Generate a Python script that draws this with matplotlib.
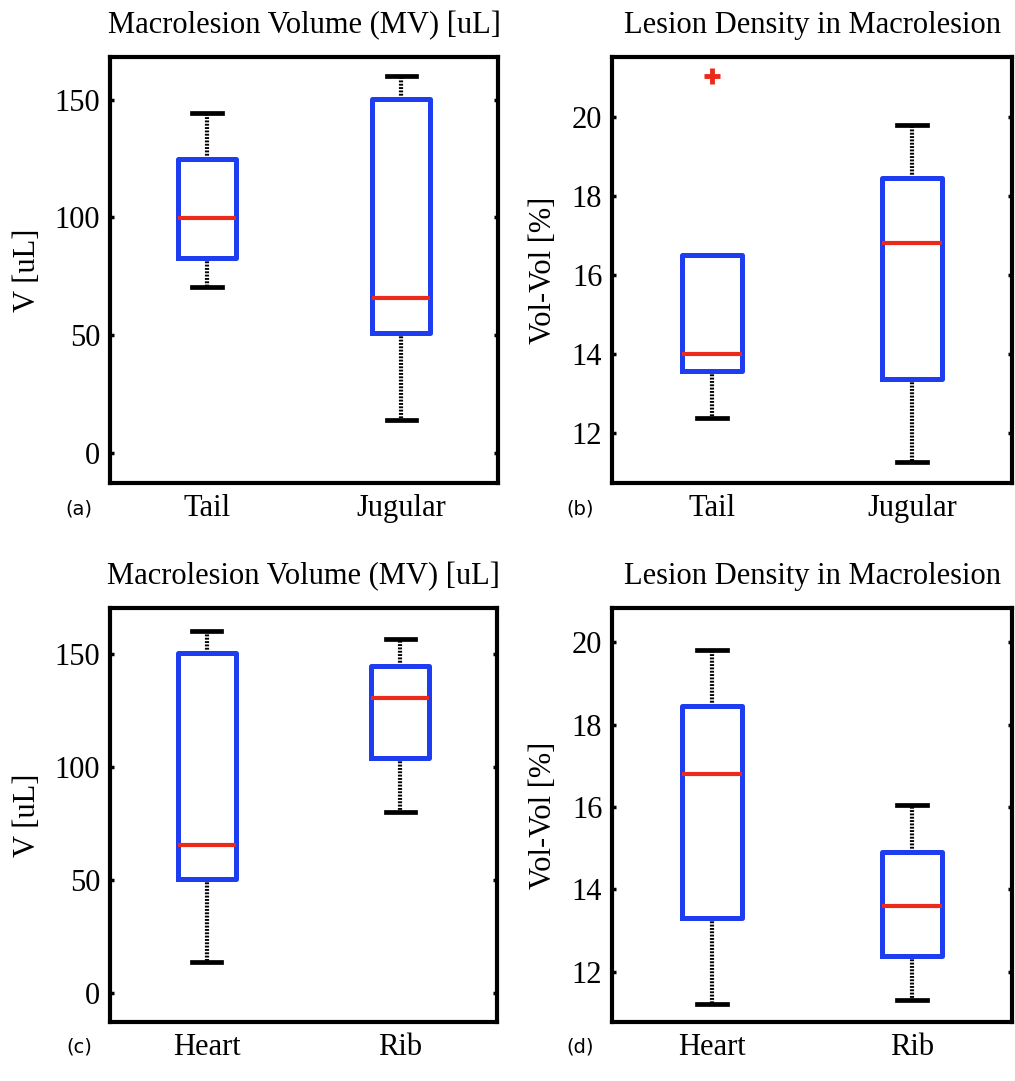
import matplotlib
matplotlib.use("Agg")
import matplotlib.pyplot as plt

# box statistics: (whisker low, q1, median, q3, whisker high)
labels_top = ["Tail", "Jugular"]
labels_bottom = ["Heart", "Rib"]

mv_tail = [70.6, 82.6, 99.7, 125.0, 144.3]
mv_jugular = [14.0, 51.0, 65.6, 150.4, 160.2]
mv_heart = [13.6, 50.6, 65.6, 150.4, 160.3]
mv_rib = [80.0, 104.0, 130.4, 144.6, 156.6]

ld_tail = [12.36, 13.55, 14.0, 16.51, 16.51]
ld_tail_outliers = [21.05]
ld_jugular = [11.24, 13.35, 16.81, 18.45, 19.80]
ld_heart = [11.21, 13.31, 16.79, 18.44, 19.82]
ld_rib = [11.31, 12.39, 13.59, 14.90, 16.05]

mv_ticks = [0, 50, 100, 150]
ld_ticks = [12, 14, 16, 18, 20]

BLUE = "#1e3cf0"
RED = "#ec2a1c"
SERIF = "Liberation Serif"

plt.rcParams["font.family"] = SERIF


def stats(vals, label, fliers=()):
    lo, q1, med, q3, hi = vals
    return dict(whislo=lo, q1=q1, med=med, q3=q3, whishi=hi, fliers=list(fliers), label=label)


def draw(ax, groups, names, ylim, yticks, title, ylabel, ylab_x, tag, fliers=None):
    if fliers is None:
        fliers = [()] * len(groups)
    bxp_stats = [stats(g, n, f) for g, n, f in zip(groups, names, fliers)]
    ax.bxp(bxp_stats, positions=[1, 2], widths=0.3,
           boxprops=dict(color=BLUE, linewidth=3.6, zorder=4),
           medianprops=dict(color=RED, linewidth=3.0, zorder=5),
           whiskerprops=dict(color="black", linewidth=3.0, linestyle=(0, (0.45, 0.35)), zorder=2),
           capprops=dict(color="black", linewidth=3.4, zorder=2),
           capwidths=0.15,
           flierprops=dict(marker="+", markeredgecolor=RED, markersize=12, markeredgewidth=3.5))
    ax.set_xlim(0.5, 2.5)
    ax.set_ylim(*ylim)
    ax.set_yticks(yticks)
    ax.set_xticks([1, 2])
    ax.set_xticklabels(names)
    ax.tick_params(axis="y", direction="in", length=3, width=2.5, right=True,
                   labelsize=22, pad=7)
    ax.tick_params(axis="x", length=0, labelsize=22, pad=8)
    for s in ax.spines.values():
        s.set_linewidth(3)
    ax.set_title(title, fontsize=22, pad=17)
    ax.set_ylabel(ylabel, fontsize=22)
    ax.yaxis.set_label_coords(ylab_x, 0.5)
    ax.text(-0.08, -0.06, tag, transform=ax.transAxes, fontsize=14,
            family="DejaVu Sans", ha="center", va="center")


fig = plt.figure(figsize=(10.15, 10.81), dpi=100)
ax_a = fig.add_axes([0.1084, 0.5532, 0.3823, 0.3941])
ax_b = fig.add_axes([0.6030, 0.5532, 0.3941, 0.3941])
ax_c = fig.add_axes([0.1084, 0.0546, 0.3813, 0.3830])
ax_d = fig.add_axes([0.6030, 0.0546, 0.3941, 0.3830])

draw(ax_a, [mv_tail, mv_jugular], labels_top, (-12.8, 168.2), mv_ticks,
     "Macrolesion Volume (MV) [uL]", "V [uL]", -0.175, "(a)")
draw(ax_b, [ld_tail, ld_jugular], labels_top, (10.72, 21.53), ld_ticks,
     "Lesion Density in Macrolesion", "Vol-Vol [%]", -0.135, "(b)",
     fliers=[ld_tail_outliers, ()])
draw(ax_c, [mv_heart, mv_rib], labels_bottom, (-12.7, 170.3), mv_ticks,
     "Macrolesion Volume (MV) [uL]", "V [uL]", -0.175, "(c)")
draw(ax_d, [ld_heart, ld_rib], labels_bottom, (10.78, 20.83), ld_ticks,
     "Lesion Density in Macrolesion", "Vol-Vol [%]", -0.135, "(d)")

fig.savefig("out.png", dpi=100)
